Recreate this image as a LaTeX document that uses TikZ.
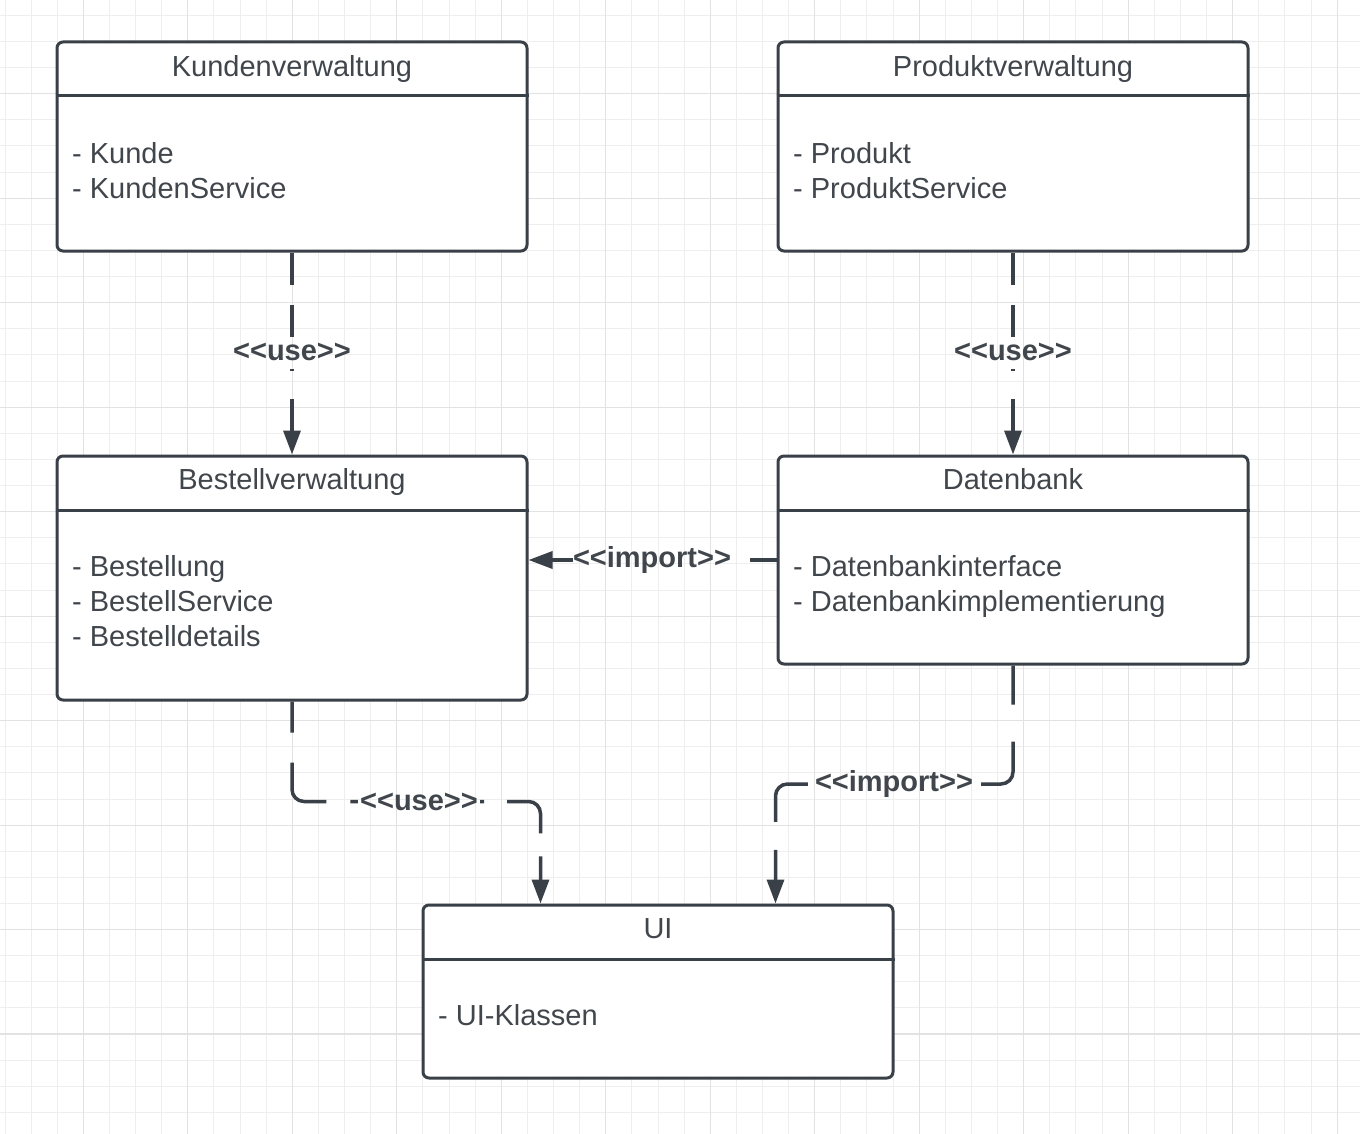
\documentclass[tikz,border=0pt]{standalone}
\usepackage{fontspec}
\setmainfont{Liberation Sans}
\usetikzlibrary{arrows.meta}
\definecolor{ln}{HTML}{3A4048}
\definecolor{tx}{HTML}{40464C}
\definecolor{gmin}{HTML}{EEEEEE}
\definecolor{gmaj}{HTML}{E2E2E2}
\begin{document}
\begin{tikzpicture}[x=1pt,y=-1pt,
  umlbox/.style={draw=ln, line width=3pt, fill=white, rounded corners=6pt, inner sep=0pt, minimum width=470pt},
  divider/.style={draw=ln, line width=3pt},
  boxtitle/.style={anchor=base, inner sep=0pt, text=tx, font=\fontsize{29}{35}\selectfont},
  boxitem/.style={anchor=base west, inner sep=0pt, text=tx, font=\fontsize{29}{35}\selectfont},
  lbl/.style={inner sep=0pt, text=tx, font=\bfseries\fontsize{29}{35}\selectfont},
  conn/.style={draw=ln, line width=3.5pt, rounded corners=12pt},
  arr/.style={-{Triangle[length=24pt,width=17pt]}},
  gridmin/.style={draw=gmin, line width=1pt},
  gridmaj/.style={draw=gmaj, line width=1.2pt}]

\fill[white] (0,0) rectangle (1360,1134);
\useasboundingbox (0,0) rectangle (1360,1134);

% grid
\foreach \k in {0,...,51} { \draw[gridmin] ({5+26.12*\k},0) -- ({5+26.12*\k},1134); }
\foreach \k in {0,...,42} { \draw[gridmin] (0,{15.4+26.12*\k}) -- (1360,{15.4+26.12*\k}); }
\foreach \k in {0,...,12} { \draw[gridmaj] ({83.36+104.48*\k},0) -- ({83.36+104.48*\k},1134); }
\foreach \k in {0,...,9} { \draw[gridmaj] (0,{93.76+104.48*\k}) -- (1360,{93.76+104.48*\k}); }

% boxes
\node[umlbox, minimum height=209pt] (kunden) at (292,146.5) {};
\node[umlbox, minimum height=209pt] (produkt) at (1013,146.5) {};
\node[umlbox, minimum height=244pt] (bestell) at (292,578) {};
\node[umlbox, minimum height=208pt] (daten) at (1013,560) {};
\node[umlbox, minimum height=173pt] (ui) at (658,991.5) {};

\foreach \b in {kunden,produkt,bestell,daten,ui} {
  \draw[divider] ([yshift=-55.5pt]\b.north west) -- ([yshift=-55.5pt]\b.north east);
}

% titles
\node[boxtitle] (kunden-t) at ([yshift=-36pt]kunden.north) {Kundenverwaltung};
\node[boxtitle] (produkt-t) at ([yshift=-36pt]produkt.north) {Produktverwaltung};
\node[boxtitle] (bestell-t) at ([yshift=-35pt]bestell.north) {Bestellverwaltung};
\node[boxtitle] (daten-t) at ([yshift=-35pt]daten.north) {Datenbank};
\node[boxtitle] (ui-t) at ([yshift=-35pt]ui.north) {UI};

% items
\node[boxitem] (kunden-1) at ([xshift=16.5pt,yshift=-123.5pt]kunden.north west) {- Kunde};
\node[boxitem] (kunden-2) at ([xshift=16.5pt,yshift=-158.5pt]kunden.north west) {- KundenService};
\node[boxitem] (produkt-1) at ([xshift=16.5pt,yshift=-123.5pt]produkt.north west) {- Produkt};
\node[boxitem] (produkt-2) at ([xshift=16.5pt,yshift=-158.5pt]produkt.north west) {- ProduktService};
\node[boxitem] (bestell-1) at ([xshift=16.5pt,yshift=-121.5pt]bestell.north west) {- Bestellung};
\node[boxitem] (bestell-2) at ([xshift=16.5pt,yshift=-156.5pt]bestell.north west) {- BestellService};
\node[boxitem] (bestell-3) at ([xshift=16.5pt,yshift=-191.5pt]bestell.north west) {- Bestelldetails};
\node[boxitem] (daten-1) at ([xshift=16.5pt,yshift=-121.5pt]daten.north west) {- Datenbankinterface};
\node[boxitem] (daten-2) at ([xshift=16.5pt,yshift=-156.5pt]daten.north west) {- Datenbankimplementierung};
\node[boxitem] (ui-1) at ([xshift=16.5pt,yshift=-121.5pt]ui.north west) {- UI-Klassen};

% labels
\node[lbl] (use1) at (292,352) {<\kern0pt<use>\kern0pt>};
\node[lbl] (use2) at (1013,352) {<\kern0pt<use>\kern0pt>};
\node[lbl] (imp1) at (652,560) {<\kern0pt<import>\kern0pt>};
\node[lbl] (use3) at (419,801.5) {<\kern0pt<use>\kern0pt>};
\node[lbl] (imp2) at (894,784) {<\kern0pt<import>\kern0pt>};

% connector Kunden -> Bestell
\draw[conn, dash pattern=on 32pt off 20pt on 100pt off 10pt] (kunden.south) -- ([yshift=15pt]use1.center);
\draw[conn, arr, dash pattern=on 2pt off 28pt on 100pt off 10pt] ([yshift=-17pt]use1.center) -- (bestell.north);

% connector Produkt -> Datenbank
\draw[conn, dash pattern=on 32pt off 20pt on 100pt off 10pt] (produkt.south) -- ([yshift=15pt]use2.center);
\draw[conn, arr, dash pattern=on 2pt off 28pt on 100pt off 10pt] ([yshift=-17pt]use2.center) -- (daten.north);

% connector Datenbank -> Bestell
\draw[conn] (daten.west) -- ([xshift=19pt]imp1.east);
\draw[conn, arr] (imp1.west) -- (bestell.east |- daten.west);

% connector Bestell -> UI
\draw[conn, dash pattern=on 31pt off 30pt on 68pt off 24pt on 20pt off 10pt] (bestell.south) |- ([xshift=-2pt]use3.west);
\draw[conn, arr, dash pattern=on 4pt off 23pt on 60pt off 23pt on 100pt off 10pt] ([xshift=2pt]use3.east) -| ([xshift=-117.5pt]ui.north);

% connector Datenbank -> UI
\draw[conn, dash pattern=on 39pt off 37pt on 200pt off 10pt] (daten.south) |- ([xshift=8pt]imp2.east);
\draw[conn, arr, dash pattern=on 65pt off 28pt on 200pt off 10pt] ([xshift=-7pt]imp2.west) -| ([xshift=117.5pt]ui.north);

\end{tikzpicture}
\end{document}
